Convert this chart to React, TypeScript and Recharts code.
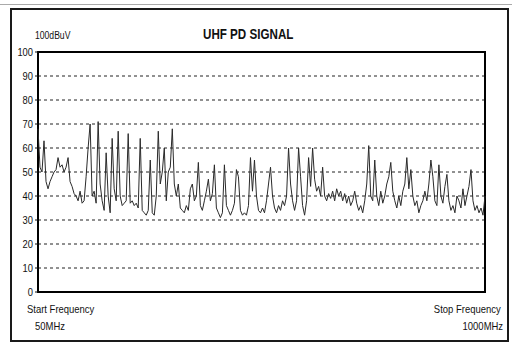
import React from 'react';
import { LineChart, Line, XAxis, YAxis, CartesianGrid, ReferenceArea } from 'recharts';

// Spectrum level in dBuV, sampled evenly from 50MHz (start) to 1000MHz (stop)
const levels: number[] = [
  68, 52, 50, 63, 46, 43, 46, 48, 50, 51, 56, 52, 53, 50, 52, 56, 46, 44, 41, 40,
  38, 42, 37, 38, 48, 60, 70, 40, 42, 37, 71, 45, 38, 34, 58, 40, 33, 64, 43, 38,
  67, 40, 36, 37, 38, 66, 37, 38, 36, 37, 35, 64, 34, 33, 32, 34, 55, 33, 32, 40,
  67, 45, 50, 60, 38, 50, 52, 68, 45, 40, 45, 35, 34, 33, 36, 34, 43, 45, 38, 40,
  54, 36, 34, 38, 42, 47, 38, 41, 53, 35, 33, 31, 33, 53, 36, 34, 32, 34, 37, 51,
  48, 34, 32, 33, 32, 36, 56, 42, 55, 40, 34, 33, 35, 33, 38, 45, 52, 40, 35, 33,
  36, 34, 38, 36, 40, 60, 45, 38, 34, 38, 60, 48, 36, 32, 38, 56, 44, 60, 47, 42,
  44, 40, 52, 40, 38, 41, 39, 42, 38, 43, 40, 42, 38, 41, 37, 40, 36, 38, 42, 37,
  34, 36, 33, 38, 45, 61, 40, 38, 55, 40, 36, 42, 37, 40, 45, 48, 54, 42, 38, 35,
  40, 36, 42, 45, 56, 43, 51, 40, 36, 38, 33, 36, 38, 42, 38, 45, 55, 48, 38, 36,
  53, 40, 37, 44, 49, 38, 34, 36, 33, 40, 38, 35, 43, 36, 40, 44, 51, 38, 34, 36,
  33, 35, 32, 40,
];

const yTicks = [0, 10, 20, 30, 40, 50, 60, 70, 80, 90, 100];
const gridLevels = [10, 20, 30, 40, 50, 60, 70, 80, 90];

const chartTitle = 'UHF PD SIGNAL';
const unitLabel = '100dBuV';
const startLabel = ['Start Frequency', '50MHz'];
const stopLabel = ['Stop Frequency', '1000MHz'];

const data = levels.map((v, i) => ({ i, v }));

const font = '"Liberation Sans", Arial, sans-serif';

// no narrow font installed, so squeeze the text horizontally
const txt = (extra: React.CSSProperties, origin = 'left'): React.CSSProperties => ({
  position: 'absolute',
  fontFamily: font,
  fontSize: 11,
  color: '#111',
  lineHeight: 1,
  whiteSpace: 'nowrap',
  transform: 'scaleX(0.86)',
  transformOrigin: origin,
  ...extra,
});

const NarrowTick = (props: any) => {
  const { x, y, payload } = props;
  return (
    <text
      x={0}
      y={0}
      transform={`translate(${x},${y}) scale(0.85,1)`}
      textAnchor="end"
      dominantBaseline="central"
      fontSize={11}
      fontFamily={font}
      fill="#111"
    >
      {payload.value}
    </text>
  );
};

export default function App() {
  return (
    <div style={{ position: 'absolute', left: 0, top: 0, width: 512, height: 345, background: '#fff' }}>
      {/* outer frame */}
      <div style={{ position: 'absolute', left: 0, top: 4, width: 512, height: 1, background: '#aaa' }} />
      <div
        style={{
          position: 'absolute',
          left: 10,
          top: 8,
          width: 499,
          height: 334,
          border: '2px solid #1a1a1a',
          boxSizing: 'border-box',
        }}
      />

      <div style={{ position: 'absolute', left: 0, top: 0 }}>
        <LineChart width={512} height={345} data={data} margin={{ top: 52, right: 27, bottom: 53, left: 0 }}>
          <CartesianGrid
            vertical={false}
            horizontalValues={gridLevels}
            stroke="#222"
            strokeDasharray="3 3"
          />
          <XAxis type="number" dataKey="i" domain={[0, levels.length - 1]} hide />
          <YAxis
            type="number"
            domain={[0, 100]}
            ticks={yTicks}
            width={38}
            axisLine={false}
            tickSize={3}
            tickLine={{ stroke: '#111' }}
            tick={<NarrowTick />}
            interval={0}
          />
          <Line
            type="linear"
            dataKey="v"
            stroke="#2a2a2a"
            strokeWidth={1}
            dot={false}
            isAnimationActive={false}
          />
          <ReferenceArea
            x1={0}
            x2={levels.length - 1}
            y1={0}
            y2={100}
            fill="none"
            stroke="#000"
            strokeWidth={2}
            ifOverflow="visible"
          />
        </LineChart>
      </div>

      <div style={txt({ left: 35, top: 31, fontSize: 10 })}>{unitLabel}</div>
      <div style={txt({ left: 203, top: 27, fontSize: 14, fontWeight: 'bold', transform: 'scaleX(0.83)' })}>{chartTitle}</div>

      <div style={txt({ left: 27, top: 304 })}>{startLabel[0]}</div>
      <div style={txt({ left: 35, top: 321 })}>{startLabel[1]}</div>
      <div style={txt({ right: 11, top: 304 }, 'right')}>{stopLabel[0]}</div>
      <div style={txt({ right: 9, top: 321 }, 'right')}>{stopLabel[1]}</div>
    </div>
  );
}
